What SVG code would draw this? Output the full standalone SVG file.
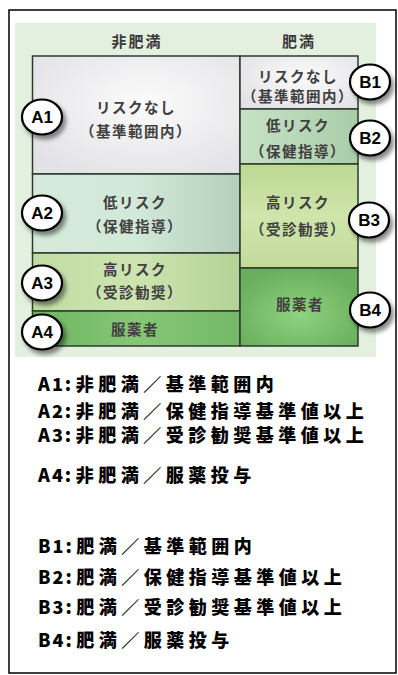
<svg xmlns="http://www.w3.org/2000/svg" width="398" height="675" viewBox="0 0 398 675">
<defs>
<style>
.cell{stroke:#2e3a2e;stroke-width:1.5}
.ct{font-family:"Noto Sans CJK JP","Noto Sans",sans-serif;font-size:14.5px;font-weight:bold;fill:#404040;text-anchor:middle;letter-spacing:1.5px}
.hd{font-family:"Noto Sans CJK JP","Noto Sans",sans-serif;font-size:15px;font-weight:bold;fill:#3a3a3a;text-anchor:middle;letter-spacing:2px}
.badge{fill:#fff;stroke:#000;stroke-width:2.2}
.bt{font-family:"Liberation Sans",Arial,sans-serif;font-size:17px;font-weight:bold;fill:#000;text-anchor:middle}
.lg{font-family:"Noto Sans CJK JP","Noto Sans",sans-serif;font-size:18px;font-weight:900;fill:#000;letter-spacing:4.5px}
.lt{letter-spacing:2px}
</style>
<filter id="sh" x="-50%" y="-50%" width="200%" height="200%">
<feDropShadow dx="3" dy="4" stdDeviation="2" flood-color="#000" flood-opacity="0.45"/>
</filter>
<radialGradient id="gW" cx="0.55" cy="0.4" r="0.7">
<stop offset="0" stop-color="#fbfbfb"/><stop offset="1" stop-color="#e2e2e6"/>
</radialGradient>
<linearGradient id="gA2" x1="0" y1="0" x2="1" y2="0">
<stop offset="0" stop-color="#d5eadb"/><stop offset="0.5" stop-color="#d2e8d8"/><stop offset="1" stop-color="#b3cfba"/>
</linearGradient>
<linearGradient id="gB2" x1="0" y1="0" x2="1" y2="0">
<stop offset="0" stop-color="#c6e2c6"/><stop offset="1" stop-color="#aacda8"/>
</linearGradient>
<linearGradient id="gA3" x1="0" y1="0" x2="1" y2="0">
<stop offset="0" stop-color="#c2dca4"/><stop offset="0.5" stop-color="#cde4b0"/><stop offset="1" stop-color="#b4d395"/>
</linearGradient>
<linearGradient id="gB3" x1="0" y1="0" x2="0" y2="1">
<stop offset="0" stop-color="#bcd993"/><stop offset="0.5" stop-color="#cfe5ab"/><stop offset="1" stop-color="#c2dc9c"/>
</linearGradient>
<linearGradient id="gA4" x1="0" y1="0" x2="1" y2="0">
<stop offset="0" stop-color="#6db660"/><stop offset="0.5" stop-color="#86c677"/><stop offset="1" stop-color="#74b967"/>
</linearGradient>
<radialGradient id="gB4" cx="0.5" cy="0.6" r="0.6">
<stop offset="0" stop-color="#8fd27f"/><stop offset="1" stop-color="#6aaf5c"/>
</radialGradient>
</defs>
<rect x="9" y="10" width="387" height="663" fill="#fff" stroke="#000" stroke-width="1.5"/>
<rect x="15" y="23" width="361" height="334" fill="#e3f0df"/>
<text class="hd" x="137" y="47">非肥満</text>
<text class="hd" x="299" y="47">肥満</text>
<g id="A1"><rect class="cell" x="32.5" y="56" width="207.5" height="118" fill="url(#gW)"/>
<text class="ct" x="136" y="113">リスクなし</text><text class="ct" x="136" y="137">（基準範囲内）</text></g>
<g id="A2"><rect class="cell" x="32.5" y="174" width="207.5" height="79" fill="url(#gA2)"/>
<text class="ct" x="135" y="208">低リスク</text><text class="ct" x="135" y="232">（保健指導）</text></g>
<g id="A3"><rect class="cell" x="32.5" y="253" width="207.5" height="58" fill="url(#gA3)"/>
<text class="ct" x="135" y="275">高リスク</text><text class="ct" x="135" y="298">（受診勧奨）</text></g>
<g id="A4"><rect class="cell" x="32.5" y="311" width="207.5" height="35" fill="url(#gA4)"/>
<text class="ct" x="135" y="335">服薬者</text></g>
<g id="B1"><rect class="cell" x="240" y="56" width="118" height="53" fill="url(#gW)"/>
<text class="ct" x="298" y="82">リスクなし</text><text class="ct" x="298" y="102">（基準範囲内）</text></g>
<g id="B2"><rect class="cell" x="240" y="109" width="118" height="55" fill="url(#gB2)"/>
<text class="ct" x="298" y="131">低リスク</text><text class="ct" x="298" y="157">（保健指導）</text></g>
<g id="B3"><rect class="cell" x="240" y="164" width="118" height="104" fill="url(#gB3)"/>
<text class="ct" x="298" y="208">高リスク</text><text class="ct" x="298" y="235">（受診勧奨）</text></g>
<g id="B4"><rect class="cell" x="240" y="268" width="118" height="78" fill="url(#gB4)"/>
<text class="ct" x="300" y="310">服薬者</text></g>
<g id="badges">
<g id="bA1"><ellipse class="badge" cx="42" cy="117" rx="20" ry="17.5" filter="url(#sh)"/><text class="bt" x="42" y="123">A1</text></g>
<g id="bA2"><ellipse class="badge" cx="42" cy="213" rx="20" ry="17.5" filter="url(#sh)"/><text class="bt" x="42" y="219">A2</text></g>
<g id="bA3"><ellipse class="badge" cx="42" cy="283" rx="20" ry="17.5" filter="url(#sh)"/><text class="bt" x="42" y="289">A3</text></g>
<g id="bA4"><ellipse class="badge" cx="42" cy="332" rx="20" ry="17.5" filter="url(#sh)"/><text class="bt" x="42" y="338">A4</text></g>
<g id="bB1"><ellipse class="badge" cx="370" cy="82" rx="20" ry="17.5" filter="url(#sh)"/><text class="bt" x="370" y="88">B1</text></g>
<g id="bB2"><ellipse class="badge" cx="370" cy="138" rx="20" ry="17.5" filter="url(#sh)"/><text class="bt" x="370" y="144">B2</text></g>
<g id="bB3"><ellipse class="badge" cx="369" cy="220" rx="20" ry="17.5" filter="url(#sh)"/><text class="bt" x="369" y="226">B3</text></g>
<g id="bB4"><ellipse class="badge" cx="370" cy="310" rx="20" ry="17.5" filter="url(#sh)"/><text class="bt" x="370" y="316">B4</text></g>
</g>
<g id="legend">
<text class="lg" x="38" y="391"><tspan class="lt">A1</tspan>:非肥満／基準範囲内</text>
<text class="lg" x="38" y="418"><tspan class="lt">A2</tspan>:非肥満／保健指導基準値以上</text>
<text class="lg" x="38" y="442"><tspan class="lt">A3</tspan>:非肥満／受診勧奨基準値以上</text>
<text class="lg" x="38" y="482"><tspan class="lt">A4</tspan>:非肥満／服薬投与</text>
<text class="lg" x="38" y="553"><tspan class="lt">B1</tspan>:肥満／基準範囲内</text>
<text class="lg" x="38" y="584"><tspan class="lt">B2</tspan>:肥満／保健指導基準値以上</text>
<text class="lg" x="38" y="614"><tspan class="lt">B3</tspan>:肥満／受診勧奨基準値以上</text>
<text class="lg" x="38" y="647"><tspan class="lt">B4</tspan>:肥満／服薬投与</text>
</g>
</svg>
